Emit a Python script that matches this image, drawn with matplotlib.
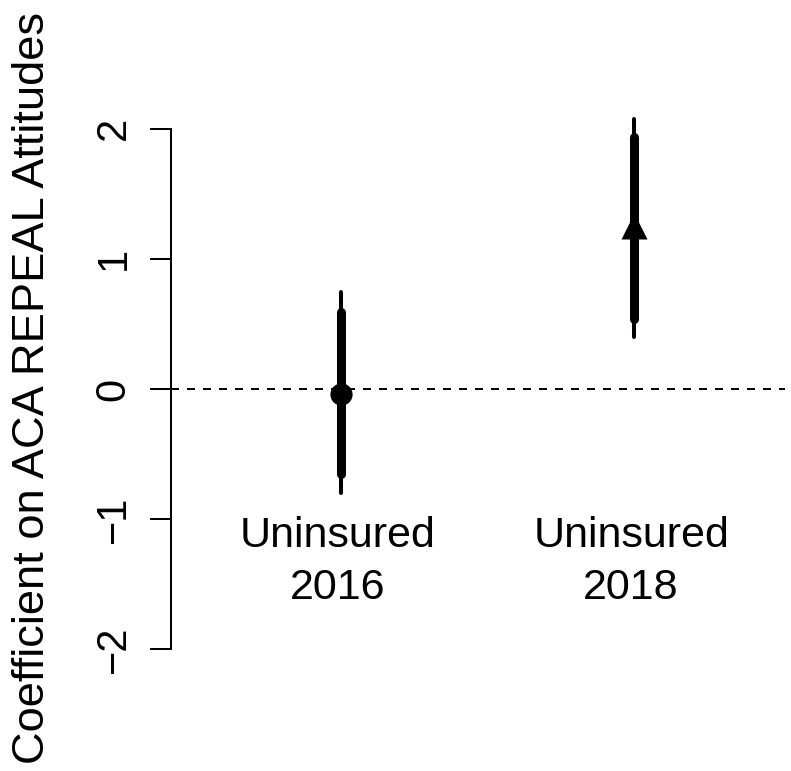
import matplotlib
matplotlib.use("Agg")
import matplotlib.pyplot as plt

# estimates with two interval widths
labels = ["Uninsured\n2016", "Uninsured\n2018"]
est = [-0.04, 1.25]
lo_wide = [-0.80, 0.40]
hi_wide = [0.745, 2.075]
lo_narrow = [-0.65, 0.54]
hi_narrow = [0.595, 1.935]
markers = ["o", "^"]
yticks = [-2, -1, 0, 1, 2]

W, H = 791, 771
fig = plt.figure(figsize=(W / 100, H / 100), dpi=100)
ax = fig.add_axes([171 / W, 1 - 670 / H, (785 - 171) / W, (670 - 108) / H])

plt.rcParams['font.family'] = ['Liberation Sans', 'DejaVu Sans']
font = 'Liberation Sans'

xs = [1, 2]
ax.axhline(0, color='black', lw=1.44, dashes=(4, 4))
for i, x in enumerate(xs):
    ax.plot([x, x], [lo_wide[i], hi_wide[i]], color='black', lw=2.9,
            solid_capstyle='round')
    ax.plot([x, x], [lo_narrow[i], hi_narrow[i]], color='black', lw=6.5,
            solid_capstyle='round')
    ms = 16 if markers[i] == 'o' else 19
    ax.plot(x, est[i], marker=markers[i], color='black', ms=ms, mec='none')
    top, bottom = labels[i].split("\n")
    ax.text(x - 0.01, -1.215, top, ha='center', va='baseline', fontsize=31,
            family=font)
    ax.text(x - 0.01, -1.615, bottom, ha='center', va='baseline', fontsize=31,
            family=font)

ax.set_xlim(0.42, 2.515)
ax.set_ylim(-2.16, 2.16)
for s in ['top', 'right', 'bottom']:
    ax.spines[s].set_visible(False)
ax.spines['left'].set_bounds(-2, 2)
ax.spines['left'].set_linewidth(1.44)
ax.set_xticks([])
ax.set_yticks(yticks)
ax.set_yticklabels(["\u22122", "\u22121", "0", "1", "2"], rotation=90,
                   va='center', fontsize=30, family=font)
ax.tick_params(axis='y', direction='out', length=15, width=1.44, pad=12)

fig.text(33 / W, 1 - 388 / H, "Coefficient on ACA REPEAL Attitudes",
         rotation=90, ha='center', va='center', fontsize=32.6, family=font)

fig.savefig("out.png", dpi=100)
